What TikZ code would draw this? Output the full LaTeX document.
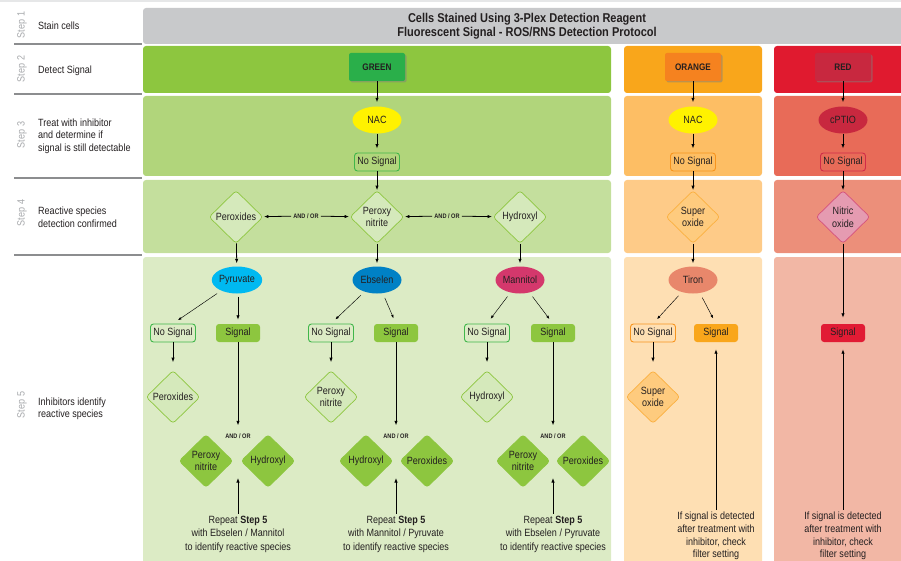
\documentclass[tikz,border=0pt]{standalone}
\usepackage{fontspec}
\setmainfont{Liberation Sans}[FakeStretch=0.86]
\usepackage{xcolor}
\usepackage{tikz}
\usetikzlibrary{arrows.meta,calc,positioning,shapes.geometric,shadows}

\definecolor{topgray}{HTML}{E6E7E8}
\definecolor{hdrgray}{HTML}{C8C9CB}
\definecolor{sepgray}{HTML}{8C8D8F}
\definecolor{stepgray}{HTML}{A7A9AC}
\definecolor{txtblack}{HTML}{231F20}
\definecolor{grnA}{HTML}{8DC63F}
\definecolor{grnB}{HTML}{B1D57B}
\definecolor{grnC}{HTML}{C4DF9D}
\definecolor{grnD}{HTML}{DCEBC5}
\definecolor{orgA}{HTML}{F9A61B}
\definecolor{orgB}{HTML}{FDBE64}
\definecolor{orgC}{HTML}{FECB88}
\definecolor{orgD}{HTML}{FEDFB3}
\definecolor{redA}{HTML}{E01A2F}
\definecolor{redB}{HTML}{E86B58}
\definecolor{redC}{HTML}{EC8F7A}
\definecolor{redD}{HTML}{F2B7A5}
\definecolor{nodegreen}{HTML}{2AAF4A}
\definecolor{nodeorange}{HTML}{F5821F}
\definecolor{nodered}{HTML}{C8283F}
\definecolor{nacyellow}{HTML}{FFF200}
\definecolor{pyrblue}{HTML}{00B9F1}
\definecolor{ebsblue}{HTML}{0081C5}
\definecolor{manpink}{HTML}{D4386C}
\definecolor{tironsal}{HTML}{E8876B}
\definecolor{palegrn}{HTML}{D5E9BB}
\definecolor{nsgreen}{HTML}{40B64A}
\definecolor{nsorange}{HTML}{F7941D}
\definecolor{nsred}{HTML}{D02C48}
\definecolor{supfill}{HTML}{FECB7E}
\definecolor{supdraw}{HTML}{FBB040}
\definecolor{nitfill}{HTML}{E59BB1}
\definecolor{nitdraw}{HTML}{D5527C}
\definecolor{redsig}{HTML}{E11B34}

\begin{document}
\begin{tikzpicture}[x=1pt,y=-1pt,>={Latex[length=4.5pt,width=3.4pt]},
  font=\fontsize{10.5}{12.5}\selectfont,text=txtblack,
  arr/.style={->,line width=0.8pt,shorten >=#1},
  arr/.default=3pt,
  diag/.style={-{Latex[length=3.5pt,width=2.6pt]},line width=0.45pt,shorten <=5pt,shorten >=6pt},
  colbox/.style={fill=#1,rounded corners=2pt,minimum width=56pt,minimum height=28pt,
    font=\bfseries\fontsize{9.5}{11}\selectfont,
    drop shadow={shadow xshift=1.5pt,shadow yshift=-1.5pt,opacity=0.5}},
  inhib/.style={fill=#1,ellipse,minimum width=49pt,minimum height=27pt,inner sep=0pt},
  nosig/.style={draw=#1,rounded corners=3pt,line width=0.9pt,minimum width=45pt,minimum height=18pt,inner sep=1pt},
  sig/.style={fill=#1,rounded corners=3pt,minimum width=44pt,minimum height=18pt,inner sep=1pt},
  spec/.style={diamond,rounded corners=3pt,minimum width=54pt,minimum height=53pt,inner sep=0pt,
    align=center,line width=0.7pt},
  andor/.style={font=\bfseries\fontsize{6.5}{7}\selectfont,inner sep=2pt},
  note/.style={align=center,inner sep=2pt,font=\fontsize{10.5}{#1}\selectfont},
  steplbl/.style={rotate=90,text=stepgray},
  steptxt/.style={anchor=west,align=left,inner sep=0pt}]
  \useasboundingbox (0,0) rectangle (901,561);
  \fill[topgray] (0,0) rectangle (901,2.5);
  \fill[hdrgray,rounded corners=3pt] (143,8) rectangle (915,44);
  \foreach \ya/\yb/\cg/\co/\cr in {46/93/grnA/orgA/redA,96/176/grnB/orgB/redB,
      180/253/grnC/orgC/redC,257/580/grnD/orgD/redD} {
    \fill[\cg,rounded corners=3pt] (143,\ya) rectangle (611,\yb);
    \fill[\co,rounded corners=3pt] (624,\ya) rectangle (762,\yb);
    \fill[\cr,rounded corners=3pt] (774,\ya) rectangle (915,\yb);
  }
  \foreach \y in {44,94,178,255} \draw[sepgray,line width=1.5pt] (14,\y) -- (142,\y);
  \foreach \y/\n in {25/1,69/2,135/3,213/4,405/5} \node[steplbl] (step\n) at (22,\y) {Step \n};

  \node[steptxt] (stain) at (38,26) {Stain cells};
  \node[steptxt] (detect) at (38,71) {Detect Signal};
  \node[steptxt] (treat) at (38,136) {Treat with inhibitor\\and determine if\\signal is still detectable};
  \node[steptxt] (confirm) at (38,217) {Reactive species\\detection confirmed};
  \node[steptxt] (identify) at (38,409) {Inhibitors identify\\reactive species};
  \node[align=center,font=\bfseries\fontsize{12.8}{13.5}\selectfont] (title) at (527,26)
    {Cells Stained Using 3-Plex Detection Reagent\\Fluorescent Signal - ROS/RNS Detection Protocol};

  \node[colbox=nodegreen] (green) at (377,67) {GREEN};
  \node[colbox=nodeorange] (orange) at (693,67) {ORANGE};
  \node[colbox=nodered] (red) at (843,67) {RED};
  \node[inhib=nacyellow] (nacg) at (377,120) {NAC};
  \node[inhib=nacyellow] (naco) at (693,120) {NAC};
  \node[inhib=nodered] (cptio) at (843,120) {cPTIO};
  \node[nosig=nsgreen] (nsg) at (377,162) {No Signal};
  \node[nosig=nsorange] (nso) at (693,162) {No Signal};
  \node[nosig=nsred] (nsr) at (843,162) {No Signal};

  \node[spec,fill=palegrn,draw=grnA] (perox) at (236,217) {Peroxides};
  \node[spec,fill=palegrn,draw=grnA] (peroxy) at (377,217) {Peroxy\\nitrite};
  \node[spec,fill=palegrn,draw=grnA] (hydrox) at (520,217) {Hydroxyl};
  \node[andor] (ao1) at (306,216) {AND / OR};
  \node[andor] (ao2) at (447,216) {AND / OR};
  \node[spec,fill=supfill,draw=supdraw] (supox) at (693,217) {Super\\oxide};
  \node[spec,fill=nitfill,draw=nitdraw] (nitox) at (843,217) {Nitric\\oxide};

  \node[inhib=pyrblue] (pyr) at (237,280) {Pyruvate};
  \node[inhib=ebsblue] (ebs) at (377,280) {Ebselen};
  \node[inhib=manpink] (man) at (520,280) {Mannitol};
  \node[inhib=tironsal] (tiron) at (693,280) {Tiron};

  \node[nosig=nsgreen] (pyrns) at (173,333) {No Signal};
  \node[sig=grnA] (pyrsig) at (238,333) {Signal};
  \node[nosig=nsgreen] (ebsns) at (331,333) {No Signal};
  \node[sig=grnA] (ebssig) at (396,333) {Signal};
  \node[nosig=nsgreen] (manns) at (487,333) {No Signal};
  \node[sig=grnA] (mansig) at (553,333) {Signal};
  \node[nosig=nsorange] (tirns) at (653,333) {No Signal};
  \node[sig=orgA] (tirsig) at (716,333) {Signal};
  \node[sig=redsig] (nitsig) at (843,333) {Signal};

  \node[spec,fill=palegrn,draw=grnA] (pyrsp) at (173,397) {Peroxides};
  \node[spec,fill=palegrn,draw=grnA] (ebssp) at (331,397) {Peroxy\\nitrite};
  \node[spec,fill=palegrn,draw=grnA] (mansp) at (487,397) {Hydroxyl};
  \node[spec,fill=supfill,draw=supdraw] (tirsp) at (653,397) {Super\\oxide};

  \node[andor] (ao3) at (238,436) {AND / OR};
  \node[andor] (ao4) at (396,436) {AND / OR};
  \node[andor] (ao5) at (553,436) {AND / OR};
  \node[spec,fill=grnA,draw=grnA] (pyrd1) at (206,461) {Peroxy\\nitrite};
  \node[spec,fill=grnA,draw=grnA] (pyrd2) at (268,461) {Hydroxyl};
  \node[spec,fill=grnA,draw=grnA] (ebsd1) at (366,461) {Hydroxyl};
  \node[spec,fill=grnA,draw=grnA] (ebsd2) at (427,461) {Peroxides};
  \node[spec,fill=grnA,draw=grnA] (mand1) at (523,461) {Peroxy\\nitrite};
  \node[spec,fill=grnA,draw=grnA] (mand2) at (583,461) {Peroxides};
  \coordinate (pyrup) at (238,478);
  \coordinate (ebsup) at (396,478);
  \coordinate (manup) at (553,478);

  \node[note=13.5] (pyrnote) at (238,534) {Repeat \textbf{Step 5}\\with Ebselen / Mannitol\\to identify reactive species};
  \node[note=13.5] (ebsnote) at (396,534) {Repeat \textbf{Step 5}\\with Mannitol / Pyruvate\\to identify reactive species};
  \node[note=13.5] (mannote) at (553,534) {Repeat \textbf{Step 5}\\with Ebselen / Pyruvate\\to identify reactive species};
  \node[note=12.7] (tirnote) at (716,536) {If signal is detected\\after treatment with\\inhibitor, check\\filter setting};
  \node[note=12.7] (nitnote) at (843,536) {If signal is detected\\after treatment with\\inhibitor, check\\filter setting};

  \draw[arr=4pt] (green) -- (nacg);
  \draw[arr=4pt] (orange) -- (naco);
  \draw[arr=4pt] (red) -- (cptio);
  \draw[arr=4pt] (nacg) -- (nsg);
  \draw[arr=4pt] (naco) -- (nso);
  \draw[arr=4pt] (cptio) -- (nsr);
  \draw[arr=0pt] (nsg) -- (peroxy);
  \draw[arr=0pt] (nso) -- (supox);
  \draw[arr=0pt] (nsr) -- (nitox);
  \draw[arr=1pt] (ao1) -- (perox);
  \draw[arr=1pt] (ao1) -- (peroxy);
  \draw[arr=1pt] (ao2) -- (peroxy);
  \draw[arr=1pt] (ao2) -- (hydrox);
  \draw[arr] (perox) -- (pyr);
  \draw[arr] (peroxy) -- (ebs);
  \draw[arr] (hydrox) -- (man);
  \draw[arr] (supox) -- (tiron);
  \draw[arr=6pt] (nitox) -- (nitsig);

  \draw[diag] (pyr) -- (pyrns.north);
  \draw[arr=4pt,shorten <=3pt] (pyr.south -| pyrsig) -- (pyrsig.north);
  \draw[diag] (ebs) -- (ebsns.north);
  \draw[diag] (ebs) -- (ebssig.north);
  \draw[diag] (man) -- (manns.north);
  \draw[diag] (man) -- (mansig.north);
  \draw[diag] (tiron) -- (tirns.north);
  \draw[diag] (tiron) -- (tirsig.north);

  \draw[arr=8pt] (pyrns) -- (pyrsp);
  \draw[arr=8pt] (ebsns) -- (ebssp);
  \draw[arr=8pt] (manns) -- (mansp);
  \draw[arr=8pt] (tirns) -- (tirsp);
  \draw[arr=6pt] (pyrsig) -- (ao3);
  \draw[arr=6pt] (ebssig) -- (ao4);
  \draw[arr=6pt] (mansig) -- (ao5);
  \draw[arr=0pt] (pyrnote) -- (pyrup);
  \draw[arr=0pt] (ebsnote) -- (ebsup);
  \draw[arr=0pt] (mannote) -- (manup);
  \draw[arr=7pt] (tirnote) -- (tirsig);
  \draw[arr=7pt] (nitnote) -- (nitsig);
\end{tikzpicture}
\end{document}
